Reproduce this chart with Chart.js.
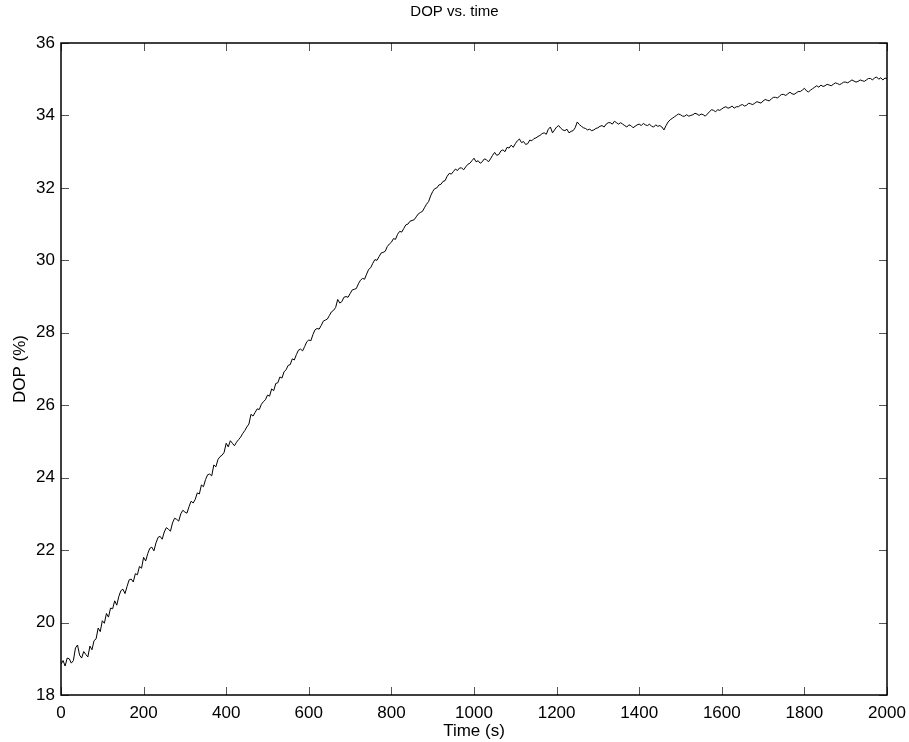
<!DOCTYPE html>
<html lang="en">
  <head>
    <meta charset="UTF-8" />
    <title>DOP vs. time</title>
    <script src="https://cdn.jsdelivr.net/npm/chart.js"></script>
    <style>
      html,
      body {
        margin: 0;
        padding: 0;
        background: #fff;
      }
      #chart-container {
        width: 909px;
        height: 742px;
      }
    </style>
  </head>
  <body>
    <div id="chart-container">
      <canvas id="myChart"></canvas>
    </div>

    <script>
      // time in seconds, one reading every 5 s
      const timeSec = [];
      for (let t = 0; t <= 2000; t += 5) timeSec.push(t);

      // DOP (%), 0 .. 2000 s
      const dopValues = [
        18.85, 18.95, 18.8, 19.02, 19.0, 18.88, 18.95, 19.3, 19.38, 19.1,
        19.02, 19.2, 19.12, 19.05, 19.35, 19.25, 19.5, 19.55, 19.85, 19.75,
        20.05, 19.98, 20.25, 20.15, 20.4, 20.38, 20.6, 20.48, 20.72, 20.88,
        20.92, 20.8, 21.0, 21.18, 21.2, 21.12, 21.35, 21.32, 21.55, 21.5,
        21.8, 21.7, 21.9, 22.05, 22.08, 21.98, 22.2, 22.35, 22.38, 22.3,
        22.5, 22.62, 22.58, 22.52, 22.75, 22.88, 22.85, 22.8, 23.0, 23.1,
        23.05, 23.02, 23.2, 23.35, 23.3, 23.4, 23.58, 23.55, 23.8, 23.75,
        23.95, 24.08, 24.1, 24.05, 24.35, 24.3, 24.5, 24.58, 24.62, 24.7,
        24.95, 24.85, 25.02, 24.95, 24.88, 24.98, 25.05, 25.12, 25.22, 25.3,
        25.4, 25.48, 25.75, 25.7, 25.8, 25.9, 25.88, 26.02, 26.1, 26.15,
        26.28, 26.25, 26.45, 26.4, 26.6, 26.62, 26.78, 26.75, 26.92, 26.98,
        27.1, 27.12, 27.28, 27.25, 27.4, 27.52, 27.55, 27.5, 27.62, 27.75,
        27.8, 27.78, 27.95, 28.08, 28.12, 28.1, 28.2, 28.32, 28.35, 28.38,
        28.48, 28.58, 28.62, 28.7, 28.92, 28.82, 28.86, 28.98, 29.0, 28.98,
        29.08, 29.18, 29.2, 29.22, 29.35, 29.45, 29.5, 29.48, 29.62, 29.75,
        29.8, 29.92, 30.02, 30.0, 30.1, 30.2, 30.22, 30.25, 30.38, 30.45,
        30.5, 30.6, 30.58, 30.72, 30.8, 30.78, 30.88, 30.98, 31.0, 31.08,
        31.1, 31.12, 31.2, 31.28, 31.32, 31.35, 31.45, 31.55, 31.62, 31.78,
        31.9, 31.98, 32.0, 32.08, 32.1, 32.18, 32.2, 32.32, 32.4, 32.38,
        32.45, 32.52, 32.48, 32.55, 32.55, 32.5, 32.58, 32.65, 32.68, 32.75,
        32.82, 32.72, 32.75, 32.68, 32.72, 32.8, 32.78, 32.72, 32.8, 32.9,
        32.98, 32.9, 32.92, 33.02, 33.05, 33.0, 33.12, 33.1, 33.18, 33.12,
        33.22, 33.3, 33.35, 33.25, 33.28, 33.2, 33.22, 33.32, 33.3, 33.36,
        33.38, 33.42, 33.45, 33.5, 33.52, 33.48, 33.62, 33.68, 33.52, 33.6,
        33.68, 33.72, 33.65, 33.6, 33.58, 33.62, 33.52, 33.56, 33.58, 33.66,
        33.82, 33.75, 33.7, 33.66, 33.64, 33.6, 33.62, 33.58, 33.6, 33.64,
        33.66, 33.7, 33.72, 33.68, 33.76, 33.8, 33.8, 33.76, 33.84, 33.8,
        33.76, 33.8, 33.76, 33.72, 33.68, 33.74, 33.72, 33.66, 33.7, 33.74,
        33.76, 33.72, 33.78, 33.74, 33.72, 33.76, 33.7, 33.68, 33.74, 33.7,
        33.72, 33.68, 33.6, 33.72, 33.82, 33.88, 33.92, 33.96, 34.0, 34.04,
        34.02, 33.98, 33.98, 34.02, 33.98, 34.0, 34.02, 34.06, 34.04, 34.0,
        34.04, 34.02, 33.98, 34.04, 34.1, 34.16, 34.14, 34.1, 34.16, 34.14,
        34.18, 34.22, 34.24, 34.2, 34.22, 34.26, 34.2, 34.24, 34.24, 34.28,
        34.3, 34.26, 34.28, 34.34, 34.32, 34.3, 34.34, 34.38, 34.36, 34.34,
        34.4, 34.44, 34.42, 34.4, 34.46, 34.5, 34.5, 34.48, 34.54, 34.58,
        34.58, 34.55, 34.6, 34.64, 34.6, 34.58, 34.62, 34.66, 34.66, 34.7,
        34.75, 34.68, 34.65, 34.7, 34.74, 34.78, 34.82, 34.78, 34.84, 34.8,
        34.82, 34.86, 34.84, 34.82, 34.86, 34.9, 34.88, 34.85, 34.88, 34.92,
        34.92, 34.9, 34.94, 34.98, 34.95, 34.92, 34.94, 34.98, 34.96, 34.94,
        34.98, 35.02, 35.02, 34.98, 35.04, 35.06, 35.0, 35.04, 34.98, 35.03,
        35.02,
      ];

      const xTicks = { min: 0, max: 2000, step: 200 };
      const yTicks = { min: 18, max: 36, step: 2 };

      const fontFamily = "'Liberation Sans', Arial, Helvetica, sans-serif";
      Chart.defaults.color = "#000";
      Chart.defaults.font.family = fontFamily;

      // matlab style box with inward ticks on all four sides
      const boxTicks = {
        id: "boxTicks",
        afterDatasetsDraw(chart) {
          const { ctx, chartArea, scales } = chart;
          const len = 8;
          ctx.save();
          ctx.strokeStyle = "#555";
          ctx.lineWidth = 1;
          ctx.beginPath();
          scales.x.ticks.forEach((tk) => {
            const px = Math.round(scales.x.getPixelForValue(tk.value)) + 0.5;
            ctx.moveTo(px, chartArea.bottom);
            ctx.lineTo(px, chartArea.bottom - len);
            ctx.moveTo(px, chartArea.top);
            ctx.lineTo(px, chartArea.top + len);
          });
          scales.y.ticks.forEach((tk) => {
            const py = Math.round(scales.y.getPixelForValue(tk.value)) + 0.5;
            ctx.moveTo(chartArea.left, py);
            ctx.lineTo(chartArea.left + len, py);
            ctx.moveTo(chartArea.right, py);
            ctx.lineTo(chartArea.right - len, py);
          });
          ctx.stroke();
          ctx.strokeStyle = "#000";
          ctx.lineWidth = 1.5;
          ctx.strokeRect(
            chartArea.left,
            chartArea.top,
            chartArea.right - chartArea.left,
            chartArea.bottom - chartArea.top
          );
          ctx.restore();
        },
      };

      const ctx = document.getElementById("myChart").getContext("2d");
      const myChart = new Chart(ctx, {
        type: "line",
        data: {
          datasets: [
            {
              label: "DOP",
              data: timeSec.map((t, i) => ({ x: t, y: dopValues[i] })),
              borderColor: "#000",
              borderWidth: 1,
              pointRadius: 0,
              tension: 0,
              fill: false,
            },
          ],
        },
        options: {
          responsive: true,
          maintainAspectRatio: false,
          animation: false,
          layout: { padding: 0 },
          plugins: {
            legend: { display: false },
            tooltip: { enabled: false },
            title: {
              display: true,
              text: "DOP vs. time",
              font: { size: 15, weight: "normal" },
              padding: { top: 3, bottom: 22 },
            },
          },
          scales: {
            x: {
              type: "linear",
              min: xTicks.min,
              max: xTicks.max,
              grid: { display: false, drawTicks: false, tickLength: 0 },
              border: { display: false },
              ticks: {
                stepSize: xTicks.step,
                maxRotation: 0,
                padding: 8,
                font: { size: 17 },
                callback: (v) => String(v),
              },
              title: {
                display: true,
                text: "Time (s)",
                font: { size: 17 },
                padding: { top: 0, bottom: 0 },
              },
              afterFit(scale) {
                scale.height = 47;
                scale.paddingLeft = 0;
                scale.paddingRight = 22;
              },
            },
            y: {
              type: "linear",
              min: yTicks.min,
              max: yTicks.max,
              grid: { display: false, drawTicks: false, tickLength: 0 },
              border: { display: false },
              ticks: {
                stepSize: yTicks.step,
                padding: 6,
                font: { size: 17 },
              },
              title: {
                display: true,
                text: "DOP (%)",
                font: { size: 17 },
                padding: { top: 10, bottom: 0 },
              },
              afterFit(scale) {
                scale.width = 61;
              },
            },
          },
        },
        plugins: [boxTicks],
      });
    </script>
  </body>
</html>
